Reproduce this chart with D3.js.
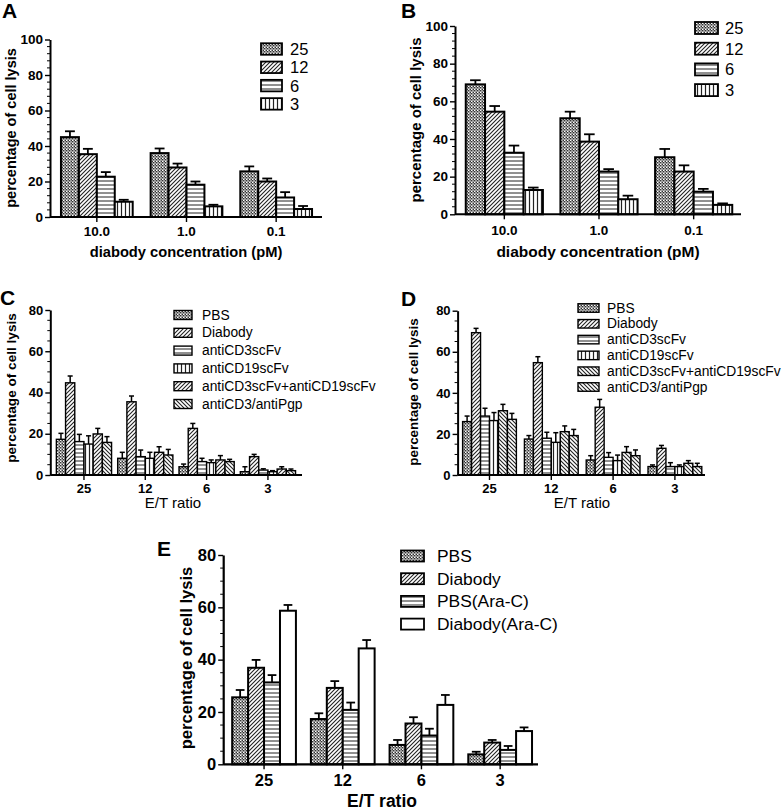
<!DOCTYPE html>
<html><head><meta charset="utf-8">
<script src="https://cdn.jsdelivr.net/npm/d3@7"></script>
<style>
html,body{margin:0;padding:0;background:#fff;}
svg{display:block;font-family:"Liberation Sans",Arial,sans-serif;}
</style></head>
<body>
<svg id="chart" width="781" height="811"></svg>
<script>
// ---------------- DATA ----------------
const concGroups = ["10.0", "1.0", "0.1"];
const etSeries = ["25", "12", "6", "3"];
const panelAValues = [[45, 36, 25.7], [35.4, 27.9, 20], [22.7, 18.2, 11], [8.6, 6, 4.5]];
const panelAErrors = [[3.3, 2.6, 2.8], [3, 2.2, 1.7], [2.6, 1.8, 3], [1.1, 0.9, 1.7]];
const panelBValues = [[69, 51, 30.3], [54.5, 38.6, 22.7], [32.7, 22.7, 12], [12.9, 8, 5]];
const panelBErrors = [[2.2, 3.5, 4.4], [3, 3.9, 3.3], [3.8, 1.3, 1.5], [1.3, 1.9, 0.8]];

const ratioGroups = ["25", "12", "6", "3"];
const controlSeries = ["PBS", "Diabody", "antiCD3scFv", "antiCD19scFv", "antiCD3scFv+antiCD19scFv", "antiCD3/antiPgp"];
const panelCValues = [[17.3, 8.1, 4, 1.6], [44.7, 35.5, 22.6, 8.9], [16.2, 8.9, 6.5, 2.4], [15, 8.1, 6, 1.6], [19.9, 11, 7.3, 2.9], [15.8, 9.7, 6.5, 2.1]];
const panelCErrors = [[2.9, 2.9, 1.3, 2.4], [3.3, 2.8, 2.4, 1.1], [3.5, 3.2, 1.6, 0.6], [4, 2.9, 1.3, 0.5], [2.7, 2.7, 2.1, 1.1], [2.8, 2.7, 1.1, 0.8]];
const panelDValues = [[26, 17.5, 7.3, 4.1], [69.3, 54.7, 33, 13], [28.7, 17.9, 8.6, 4.1], [26.5, 15.9, 7, 4.1], [31.3, 21.1, 11, 5.7], [27.1, 19.2, 9.4, 4.1]];
const panelDErrors = [[2.7, 1.7, 2.1, 0.8], [2.1, 2.9, 3.8, 1.4], [3.8, 2.9, 2.3, 1.9], [3.9, 4.7, 2.7, 0.8], [3.1, 2.8, 2.8, 1.3], [2.9, 3, 2.8, 1.6]];

const araSeries = ["PBS", "Diabody", "PBS(Ara-C)", "Diabody(Ara-C)"];
const panelEValues = [[25.6, 17.3, 7.4, 3.8], [36.9, 29.2, 15.6, 8.3], [31.3, 20.8, 11, 5.5], [58.7, 44.3, 22.7, 12.7]];
const panelEErrors = [[2.8, 2.2, 1.9, 1], [3, 2.6, 2.4, 1], [2.8, 2.8, 2.6, 1.5], [2.2, 3.2, 3.8, 1.4]];

const yTicks100 = [0, 20, 40, 60, 80, 100];
const yTicks80 = [0, 20, 40, 60, 80];

// ---------------- PATTERNS ----------------
const svg = d3.select("#chart");
const defs = svg.append("defs");
function pat(id, size, draw) {
  const p = defs.append("pattern").attr("id", id).attr("patternUnits", "userSpaceOnUse")
    .attr("width", size).attr("height", size);
  p.append("rect").attr("width", size).attr("height", size).attr("fill", "#fff");
  draw(p, size);
}
pat("p-cross", 3, (p, s) => {
  p.append("rect").attr("x", 0).attr("y", 0).attr("width", 1.5).attr("height", 1.5).attr("fill", "#333");
  p.append("rect").attr("x", 1.5).attr("y", 1.5).attr("width", 1.5).attr("height", 1.5).attr("fill", "#333");
  p.append("rect").attr("x", 1.5).attr("y", 0).attr("width", 1.5).attr("height", 1.5).attr("fill", "#999");
});
pat("p-diag", 4, (p, s) => {
  p.append("path").attr("d", "M-1,5 L5,-1 M-1,1 L1,-1 M3,5 L5,3").attr("stroke", "#222").attr("stroke-width", 1.1);
});
pat("p-back", 4, (p, s) => {
  p.append("path").attr("d", "M-1,-1 L5,5 M3,-1 L5,1 M-1,3 L1,5").attr("stroke", "#222").attr("stroke-width", 1.1);
});
pat("p-horiz", 4, (p, s) => {
  p.append("line").attr("x1", 0).attr("x2", 4).attr("y1", 1).attr("y2", 1).attr("stroke", "#222").attr("stroke-width", 1);
});
pat("p-vert", 4, (p, s) => {
  p.append("line").attr("y1", 0).attr("y2", 4).attr("x1", 1.5).attr("x2", 1.5).attr("stroke", "#222").attr("stroke-width", 1.2);
});
const fills = {cross: "url(#p-cross)", diag: "url(#p-diag)", back: "url(#p-back)", horiz: "url(#p-horiz)", vert: "url(#p-vert)", none: "#fff"};

// ---------------- PANEL DRAWER ----------------
function panel(cfg) {
  const g = svg.append("g");
  const x = d3.scaleBand().domain(cfg.groups).range(cfg.xRange).paddingInner(cfg.pad).paddingOuter(cfg.pad / 2);
  const xs = d3.scaleBand().domain(cfg.series).range([0, x.bandwidth()]);
  const y = d3.scaleLinear().domain([0, cfg.yMax]).range(cfg.yRange);

  // bars
  cfg.series.forEach((s, si) => {
    cfg.groups.forEach((grp, gi) => {
      const v = cfg.values[si][gi], e = cfg.errors[si][gi];
      const bx = x(grp) + xs(s), bw = xs.bandwidth();
      const cx = bx + bw / 2;
      const cap = Math.max(5, bw * 0.55);
      g.append("line").attr("x1", cx).attr("x2", cx).attr("y1", y(v)).attr("y2", y(v + e))
        .attr("stroke", "#000").attr("stroke-width", cfg.errW);
      g.append("line").attr("x1", cx - cap / 2).attr("x2", cx + cap / 2).attr("y1", y(v + e)).attr("y2", y(v + e))
        .attr("stroke", "#000").attr("stroke-width", cfg.errW);
      g.append("rect").attr("x", bx).attr("y", y(v)).attr("width", bw).attr("height", y(0) - y(v))
        .attr("fill", fills[cfg.patterns[si]]).attr("stroke", "#000").attr("stroke-width", cfg.barW);
    });
  });

  // y axis
  const yAx = g.append("g").attr("transform", `translate(${cfg.xRange[0] - cfg.axisGap},0)`);
  const minor = d3.range(0, cfg.yMax + 0.01, cfg.minorStep).filter(t => !cfg.yTicks.includes(t));
  yAx.selectAll(".mn").data(minor).join("line").attr("x1", -3).attr("x2", 0)
    .attr("y1", d => y(d)).attr("y2", d => y(d)).attr("stroke", "#000").attr("stroke-width", 1);
  yAx.call(d3.axisLeft(y).tickValues(cfg.yTicks).tickSize(5).tickPadding(2).tickSizeOuter(0));
  yAx.select(".domain").attr("stroke-width", cfg.axisW);
  yAx.selectAll(".tick line").attr("stroke-width", 1.4);
  yAx.selectAll(".tick text").attr("font-family", "Liberation Sans, Arial, sans-serif")
    .attr("font-size", cfg.tickFont).attr("font-weight", "bold").attr("fill", "#000");

  // x axis
  const xAx = g.append("g").attr("transform", `translate(0,${y(0)})`);
  xAx.append("line").attr("x1", cfg.xRange[0] - cfg.axisGap).attr("x2", cfg.xEnd).attr("y1", 0).attr("y2", 0)
    .attr("stroke", "#000").attr("stroke-width", cfg.axisW);
  cfg.groups.forEach(grp => {
    const cx = x(grp) + x.bandwidth() / 2;
    xAx.append("line").attr("x1", cx).attr("x2", cx).attr("y1", 0).attr("y2", 5).attr("stroke", "#000").attr("stroke-width", 1.4);
    xAx.append("text").attr("x", cx).attr("y", cfg.xTickDy).attr("text-anchor", "middle")
      .attr("font-size", cfg.tickFont).attr("font-weight", "bold").text(grp);
  });

  // titles
  g.append("text").attr("transform", `translate(${cfg.yLabel[0]},${cfg.yLabel[1]}) rotate(-90)`)
    .attr("text-anchor", "middle").attr("dominant-baseline", "central")
    .attr("font-size", cfg.yLabelFont).attr("font-weight", "bold").text("percentage of cell lysis");
  g.append("text").attr("x", cfg.xTitle[0]).attr("y", cfg.xTitle[1]).attr("text-anchor", "middle")
    .attr("font-size", cfg.xTitleFont).attr("font-weight", cfg.xTitleWeight).text(cfg.xTitleText);
  g.append("text").attr("x", cfg.letter[0]).attr("y", cfg.letter[1])
    .attr("font-size", 21).attr("font-weight", "bold").text(cfg.letterText);

  // legend
  const L = cfg.legend;
  cfg.series.forEach((s, si) => {
    const cy = L.y0 + si * L.dy;
    g.append("rect").attr("x", L.x).attr("y", cy - L.h / 2).attr("width", L.w).attr("height", L.h)
      .attr("fill", fills[cfg.patterns[si]]).attr("stroke", "#000").attr("stroke-width", L.sw);
    g.append("text").attr("x", L.tx).attr("y", cy).attr("dominant-baseline", "central")
      .attr("font-size", L.font).text(s);
  });
}

panel({
  groups: concGroups, series: etSeries, values: panelAValues, errors: panelAErrors,
  patterns: ["cross", "diag", "horiz", "vert"],
  xRange: [52, 321], pad: 0.2, xEnd: 322, axisGap: 2,
  yMax: 100, yRange: [217, 39.5], yTicks: yTicks100, minorStep: 4,
  barW: 2, errW: 1.8, axisW: 2, tickFont: 13.5, xTickDy: 19,
  yLabel: [11, 128], yLabelFont: 14.5, xTitle: [186, 257], xTitleFont: 14.7, xTitleWeight: "bold",
  xTitleText: "diabody concentration (pM)", letter: [2, 18], letterText: "A",
  legend: {x: 261, w: 21, h: 11.5, sw: 1.8, y0: 49, dy: 18.3, tx: 290, font: 16.5}
});
panel({
  groups: concGroups, series: etSeries, values: panelBValues, errors: panelBErrors,
  patterns: ["cross", "diag", "horiz", "vert"],
  xRange: [457, 741], pad: 0.185, xEnd: 741, axisGap: 2,
  yMax: 100, yRange: [214.3, 26], yTicks: yTicks100, minorStep: 4,
  barW: 2, errW: 1.8, axisW: 2, tickFont: 13.5, xTickDy: 20.5,
  yLabel: [415, 120], yLabelFont: 15, xTitle: [598, 257], xTitleFont: 15.5, xTitleWeight: "bold",
  xTitleText: "diabody concentration (pM)", letter: [401, 18], letterText: "B",
  legend: {x: 695, w: 23, h: 12, sw: 1.8, y0: 28, dy: 20.7, tx: 725, font: 16.5}
});
panel({
  groups: ratioGroups, series: controlSeries, values: panelCValues, errors: panelCErrors,
  patterns: ["cross", "diag", "horiz", "vert", "diag", "back"],
  xRange: [53.3, 298.6], pad: 0.1, xEnd: 302, axisGap: 3,
  yMax: 80, yRange: [475, 310], yTicks: yTicks80, minorStep: 5,
  barW: 1.4, errW: 1.5, axisW: 2, tickFont: 13, xTickDy: 17.5,
  yLabel: [11, 388], yLabelFont: 13.6, xTitle: [173, 508], xTitleFont: 15, xTitleWeight: "normal",
  xTitleText: "E/T ratio", letter: [0, 305], letterText: "C",
  legend: {x: 174, w: 18, h: 9, sw: 1.4, y0: 315, dy: 17.8, tx: 202, font: 13.8}
});
panel({
  groups: ratioGroups, series: controlSeries, values: panelDValues, errors: panelDErrors,
  patterns: ["cross", "diag", "horiz", "vert", "back", "back"],
  xRange: [458.6, 705.8], pad: 0.13, xEnd: 705, axisGap: 1,
  yMax: 80, yRange: [475, 310.7], yTicks: yTicks80, minorStep: 5,
  barW: 1.4, errW: 1.5, axisW: 2, tickFont: 13, xTickDy: 17.5,
  yLabel: [413, 392], yLabelFont: 13.4, xTitle: [582, 508], xTitleFont: 15, xTitleWeight: "normal",
  xTitleText: "E/T ratio", letter: [401, 306], letterText: "D",
  legend: {x: 578, w: 21, h: 8.5, sw: 1.4, y0: 308, dy: 15.8, tx: 607, font: 13.8}
});
panel({
  groups: ratioGroups, series: araSeries, values: panelEValues, errors: panelEErrors,
  patterns: ["cross", "diag", "horiz", "none"],
  xRange: [224.7, 539.5], pad: 0.19, xEnd: 538, axisGap: 1.5,
  yMax: 80, yRange: [764.3, 555], yTicks: yTicks80, minorStep: 5,
  barW: 2, errW: 1.8, axisW: 2.2, tickFont: 16.5, xTickDy: 22,
  yLabel: [186, 658], yLabelFont: 16.6, xTitle: [382, 807], xTitleFont: 17.5, xTitleWeight: "bold",
  xTitleText: "E/T ratio", letter: [157, 556], letterText: "E",
  legend: {x: 401, w: 23, h: 11, sw: 1.8, y0: 556, dy: 22.7, tx: 437, font: 17.4}
});
</script>
</body></html>
